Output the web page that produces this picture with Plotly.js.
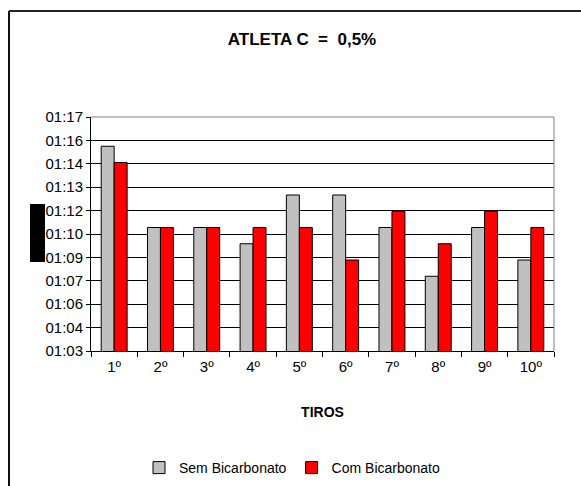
<!DOCTYPE html>
<html>
<head>
<meta charset="utf-8">
<script src="https://cdn.plot.ly/plotly-3.0.1.min.js"></script>
<style>
  html, body { margin: 0; padding: 0; background: #fff; }
  #chart { width: 581px; height: 486px; }
</style>
</head>
<body>
<div id="chart"></div>
<script>
// Shot numbers
const tiros = ["1º", "2º", "3º", "4º", "5º", "6º", "7º", "8º", "9º", "10º"];

// Shot times in seconds
const semBicarbonato = [76, 71, 71, 70, 73, 73, 71, 68, 71, 69];
const comBicarbonato = [75, 71, 71, 71, 71, 69, 72, 70, 72, 71];

// Time-axis labels (mm:ss)
const yTickLabels = ["01:03", "01:04", "01:06", "01:07", "01:09", "01:10",
                     "01:12", "01:13", "01:14", "01:16", "01:17"];

// Time axis: starts at 63.4 s, one major step = 1.44 s
const yMin = 63.4;
const yStep = 1.44;
const yTickVals = yTickLabels.map((_, i) => yMin + i * yStep);
const yMax = yTickVals[yTickVals.length - 1];

const regFont = "'Liberation Sans', Arial, sans-serif";

const traces = [
  {
    type: "bar",
    name: "Sem Bicarbonato",
    x: tiros,
    y: semBicarbonato,
    marker: { color: "#C0C0C0", line: { color: "#000", width: 1 } },
    hoverinfo: "skip"
  },
  {
    type: "bar",
    name: "Com Bicarbonato",
    x: tiros,
    y: comBicarbonato,
    marker: { color: "#FF0000", line: { color: "#000", width: 1 } },
    hoverinfo: "skip"
  }
];

// Page size and plot-area box in page pixels
const W = 581, H = 486;
const L = 91, R = 554, T = 117, B = 351;
const px = v => (v - L) / (R - L);
const py = v => (B - v) / (B - T);

const layout = {
  width: W,
  height: H,
  margin: { l: L, r: W - R, t: T, b: H - B, autoexpand: false },
  paper_bgcolor: "#fff",
  plot_bgcolor: "#fff",
  showlegend: true,
  barmode: "group",
  bargap: 0.44,
  bargroupgap: 0,
  title: {
    text: "<b>ATLETA C  =  0,5%</b>",
    font: { family: regFont, size: 17, color: "#000" },
    xref: "container", yref: "container",
    x: 302 / W, xanchor: "center",
    y: 1 - 39 / H, yanchor: "middle"
  },
  xaxis: {
    type: "category",
    showline: true, linecolor: "#000", linewidth: 1,
    ticks: "outside", ticklen: 5, tickcolor: "#000", tickson: "boundaries",
    ticklabelstandoff: 2,
    showgrid: false,
    tickfont: { family: regFont, size: 15, color: "#000" },
    title: {
      text: "<b>TIROS</b>",
      font: { family: regFont, size: 14, color: "#000" },
      standoff: 33
    },
    fixedrange: true
  },
  yaxis: {
    range: [yMin, yMax],
    tickvals: yTickVals,
    ticktext: yTickLabels,
    showline: true, linecolor: "#000", linewidth: 1,
    ticks: "outside", ticklen: 4, tickcolor: "#000",
    showgrid: true, gridcolor: "#000", gridwidth: 1,
    zeroline: false,
    tickfont: { family: regFont, size: 15, color: "#000" },
    fixedrange: true
  },
  legend: {
    orientation: "h",
    xref: "container", yref: "container",
    x: 292 / W, xanchor: "center",
    y: 1 - 468 / H, yanchor: "middle",
    font: { family: regFont, size: 14, color: "#000" },
    itemwidth: 30,
    traceorder: "normal",
    bgcolor: "rgba(0,0,0,0)"
  },
  shapes: [
    // plot area frame (top and right)
    { type: "line", xref: "paper", yref: "paper", x0: 0, x1: 1, y0: 1, y1: 1,
      line: { color: "#808080", width: 1 } },
    { type: "line", xref: "paper", yref: "paper", x0: 1, x1: 1, y0: 0, y1: 1,
      line: { color: "#808080", width: 1 } },
    // y-axis title block
    { type: "rect", xref: "paper", yref: "paper",
      x0: px(30), x1: px(45), y0: py(262), y1: py(204),
      fillcolor: "#000", line: { width: 0 } },
    // outer chart frame
    { type: "line", xref: "paper", yref: "paper",
      x0: px(9), x1: px(590), y0: py(11), y1: py(11),
      line: { color: "#222", width: 2 } },
    { type: "line", xref: "paper", yref: "paper",
      x0: px(9), x1: px(9), y0: py(11), y1: py(495),
      line: { color: "#111", width: 2 } }
  ]
};

Plotly.newPlot("chart", traces, layout, { staticPlot: true, displayModeBar: false });
</script>
</body>
</html>
